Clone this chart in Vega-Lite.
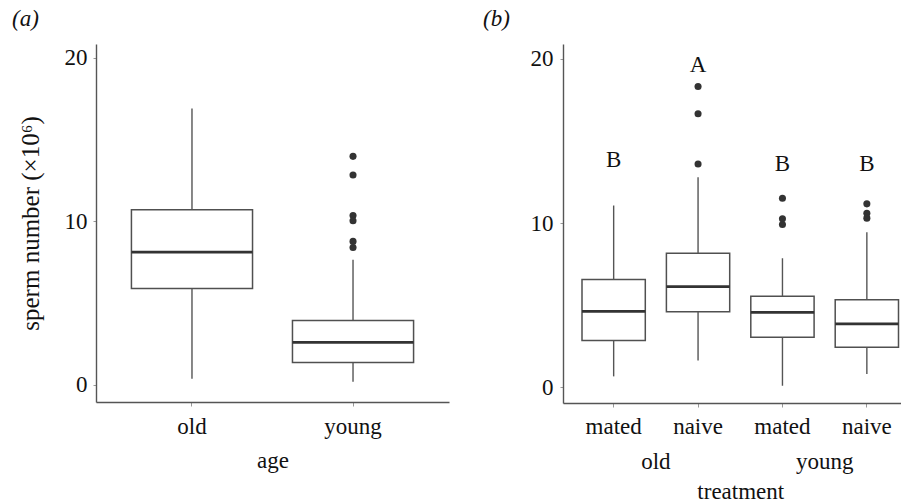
{
  "$schema": "https://vega.github.io/schema/vega-lite/v6.json",
  "padding": {"left": 12, "top": 8, "right": 0, "bottom": 0},
  "spacing": 34,
  "config": {
    "font": "Liberation Serif",
    "view": {"stroke": null},
    "axis": {"grid": false, "domainColor": "#555", "domainWidth": 1.4, "tickColor": "#999", "tickWidth": 1, "labelFont": "Liberation Serif", "labelFontSize": 23, "labelColor": "#111", "titleFont": "Liberation Serif", "titleFontSize": 23, "titleFontWeight": "normal", "titleColor": "#111"},
    "title": {"font": "Liberation Serif", "fontSize": 23, "fontWeight": "normal", "fontStyle": "italic", "anchor": "start", "color": "#111"}
  },
  "hconcat": [
    {
      "width": 353,
      "height": 358,
      "title": {"text": "(a)", "dx": -6, "offset": 13},
      "data": {"values": [
        {"age": "old", "min": 0.38, "q1": 5.9, "median": 8.13, "q3": 10.71, "max": 16.9},
        {"age": "young", "min": 0.2, "q1": 1.38, "median": 2.6, "q3": 3.94, "max": 7.66}
      ]},
      "layer": [
        {
          "mark": {"type": "rule", "color": "#555", "strokeWidth": 1.4},
          "encoding": {
            "x": {"field": "age", "type": "nominal", "title": "age", "sort": ["old", "young"], "scale": {"paddingInner": 0.248, "paddingOuter": 0.22}, "axis": {"labelAngle": 0, "tickSize": 4, "labelPadding": 9, "titlePadding": 11}},
            "y": {"field": "min", "type": "quantitative", "title": "sperm number (×10⁶)", "scale": {"domain": [-1.04, 20.85], "nice": false, "zero": false}, "axis": {"values": [0, 10, 20], "tickSize": 3, "labelPadding": 6, "titlePadding": 21, "titleFontSize": 25}},
            "y2": {"field": "max"}
          }
        },
        {
          "mark": {"type": "bar", "fill": "white", "stroke": "#505050", "strokeWidth": 1.5},
          "encoding": {
            "x": {"field": "age", "type": "nominal", "title": "age"},
            "y": {"field": "q1", "type": "quantitative", "title": "sperm number (×10⁶)"},
            "y2": {"field": "q3"}
          }
        },
        {
          "mark": {"type": "tick", "color": "#333", "opacity": 1, "thickness": 2.8, "size": 121},
          "encoding": {
            "x": {"field": "age", "type": "nominal", "title": "age"},
            "y": {"field": "median", "type": "quantitative", "title": "sperm number (×10⁶)"}
          }
        },
        {
          "data": {"values": [
            {"age": "young", "value": 13.98},
            {"age": "young", "value": 12.84},
            {"age": "young", "value": 10.36},
            {"age": "young", "value": 10.04},
            {"age": "young", "value": 8.78},
            {"age": "young", "value": 8.41}
          ]},
          "mark": {"type": "circle", "color": "#333", "opacity": 1, "size": 50},
          "encoding": {
            "x": {"field": "age", "type": "nominal", "title": "age"},
            "y": {"field": "value", "type": "quantitative", "title": "sperm number (×10⁶)"}
          }
        }
      ]
    },
    {
      "width": 338,
      "height": 359,
      "title": {"text": "(b)", "dx": -47, "offset": 13},
      "layer": [
        {
          "data": {"values": [
            {"age": "old", "treatment": "mated", "q1": 2.86, "q3": 6.56},
            {"age": "old", "treatment": "naive", "q1": 4.61, "q3": 8.16},
            {"age": "young", "treatment": "mated", "q1": 3.05, "q3": 5.54},
            {"age": "young", "treatment": "naive", "q1": 2.44, "q3": 5.34}
          ]},
          "mark": {"type": "bar", "fill": "white", "stroke": "#505050", "strokeWidth": 1.5},
          "encoding": {
            "x": {"field": "age", "type": "nominal", "title": "treatment", "scale": {"domain": ["old", "young"], "range": [8.45, 346.05], "paddingInner": 0, "paddingOuter": 0}, "axis": {"orient": "bottom", "offset": 47, "domain": false, "ticks": false, "tickSize": 0, "labelPadding": 0, "titlePadding": 7, "labelAngle": 0}},
            "xOffset": {"field": "treatment", "type": "nominal", "scale": {"domain": ["mated", "naive"], "paddingInner": 0.25, "paddingOuter": 0.125}},
            "y": {"field": "q1", "type": "quantitative", "title": null, "scale": {"domain": [-0.95, 20.9], "nice": false, "zero": false}, "axis": {"values": [0, 10, 20], "tickSize": 3, "labelPadding": 7}},
            "y2": {"field": "q3"}
          }
        },
        {
          "encoding": {
            "x": {"field": "cat", "type": "nominal", "title": null, "sort": ["mated old", "naive old", "mated young", "naive young"], "scale": {"paddingInner": 0.25, "paddingOuter": 0.1274, "align": 0.884}, "axis": {"orient": "bottom", "labelExpr": "split(datum.label, ' ')[0]", "tickSize": 4, "labelPadding": 8, "labelAngle": 0}}
          },
          "layer": [
            {
              "data": {"values": [
                {"cat": "mated old", "min": 0.67, "q1": 2.86, "median": 4.63, "q3": 6.56, "max": 11.07},
                {"cat": "naive old", "min": 1.64, "q1": 4.61, "median": 6.13, "q3": 8.16, "max": 12.79},
                {"cat": "mated young", "min": 0.1, "q1": 3.05, "median": 4.57, "q3": 5.54, "max": 7.86},
                {"cat": "naive young", "min": 0.82, "q1": 2.44, "median": 3.86, "q3": 5.34, "max": 9.44}
              ]},
              "layer": [
                {
                  "mark": {"type": "rule", "color": "#555", "strokeWidth": 1.4},
                  "encoding": {"y": {"field": "min", "type": "quantitative", "title": null}, "y2": {"field": "q1"}}
                },
                {
                  "mark": {"type": "rule", "color": "#555", "strokeWidth": 1.4},
                  "encoding": {"y": {"field": "q3", "type": "quantitative", "title": null}, "y2": {"field": "max"}}
                },
                {
                  "mark": {"type": "tick", "color": "#333", "opacity": 1, "thickness": 2.8, "size": 63.3},
                  "encoding": {"y": {"field": "median", "type": "quantitative", "title": null}}
                }
              ]
            },
            {
              "data": {"values": [
                {"cat": "naive old", "value": 18.31},
                {"cat": "naive old", "value": 16.65},
                {"cat": "naive old", "value": 13.6},
                {"cat": "mated young", "value": 11.51},
                {"cat": "mated young", "value": 10.26},
                {"cat": "mated young", "value": 9.91},
                {"cat": "naive young", "value": 11.17},
                {"cat": "naive young", "value": 10.6},
                {"cat": "naive young", "value": 10.3}
              ]},
              "mark": {"type": "circle", "color": "#333", "opacity": 1, "size": 50},
              "encoding": {"y": {"field": "value", "type": "quantitative", "title": null}}
            },
            {
              "data": {"values": [
                {"cat": "mated old", "letter": "B", "pos": 13.4},
                {"cat": "naive old", "letter": "A", "pos": 19.18},
                {"cat": "mated young", "letter": "B", "pos": 13.2},
                {"cat": "naive young", "letter": "B", "pos": 13.2}
              ]},
              "mark": {"type": "text", "font": "Liberation Serif", "fontSize": 23, "color": "#111", "baseline": "alphabetic", "align": "center"},
              "encoding": {"y": {"field": "pos", "type": "quantitative", "title": null}, "text": {"field": "letter"}}
            }
          ]
        }
      ],
      "resolve": {"scale": {"x": "independent"}, "axis": {"x": "independent"}}
    }
  ]
}
